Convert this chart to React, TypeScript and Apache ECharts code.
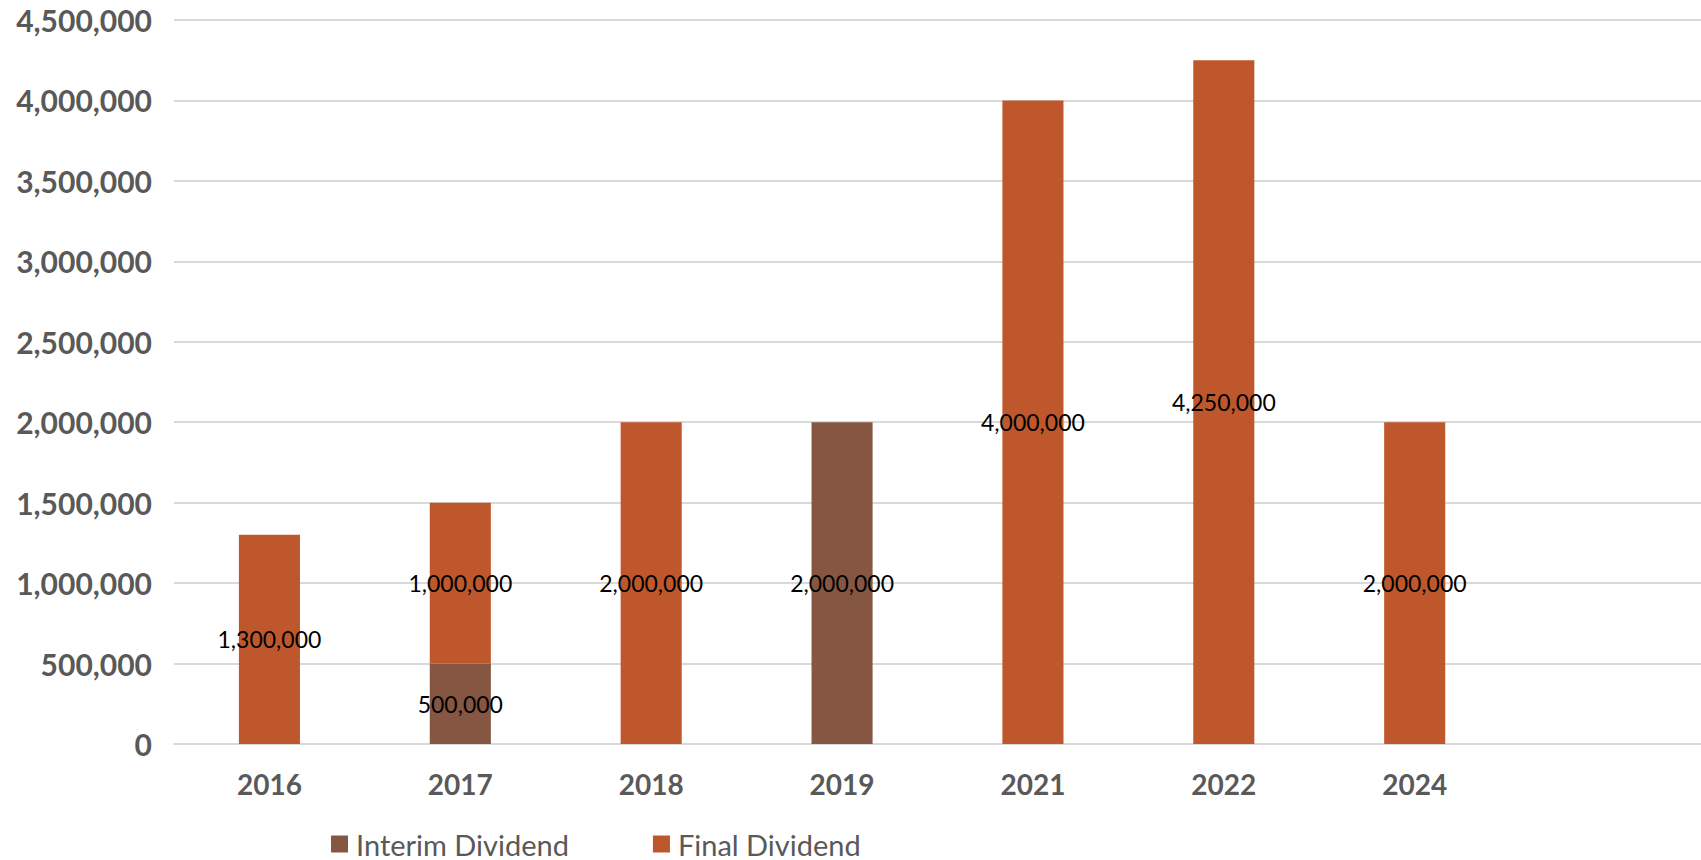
import React, { useEffect, useRef } from "react";
import * as echarts from "echarts";

const categories = ["2016", "2017", "2018", "2019", "2021", "2022", "2024", ""];
const interimDividend: (number | null)[] = [null, 500000, null, 2000000, null, null, null, null];
const finalDividend: (number | null)[] = [1300000, 1000000, 2000000, null, 4000000, 4250000, 2000000, null];
const yTicks = { min: 0, max: 4500000, interval: 500000 };

const fmt = (v: number) => v.toLocaleString("en-US");
const FONT = "Lato, 'Noto Sans', sans-serif";

export default function App() {
  const ref = useRef<HTMLDivElement>(null);
  useEffect(() => {
    if (!ref.current) return;
    const chart = echarts.init(ref.current, undefined, { renderer: "svg" });
    const label = {
      show: true,
      position: "inside" as const,
      color: "#000000",
      fontFamily: FONT,
      fontSize: 23,
      formatter: (p: any) => fmt(p.value),
    };
    chart.setOption({
      animation: false,
      backgroundColor: "#ffffff",
      grid: { left: 174, right: 0, top: 20, bottom: 116, containLabel: false },
      legend: {
        left: 331,
        top: 828,
        padding: 0,
        itemWidth: 17,
        itemHeight: 17,
        itemGap: 84,
        icon: "rect",
        textStyle: { color: "#595959", fontFamily: FONT, fontSize: 29, lineHeight: 32, padding: [0, 0, 0, 3] },
        data: ["Interim Dividend", "Final Dividend"],
      },
      xAxis: {
        type: "category",
        data: categories,
        axisTick: { show: false },
        axisLine: { lineStyle: { color: "#D9D9D9", width: 2 } },
        axisLabel: { color: "#595959", fontFamily: FONT, fontWeight: "bold", fontSize: 28, margin: 26 },
      },
      yAxis: {
        type: "value",
        min: yTicks.min,
        max: yTicks.max,
        interval: yTicks.interval,
        axisLine: { show: false },
        axisTick: { show: false },
        splitLine: { lineStyle: { color: "#D9D9D9", width: 2 } },
        axisLabel: {
          color: "#595959",
          fontFamily: FONT,
          fontWeight: "bold",
          fontSize: 30,
          margin: 22,
          formatter: (v: number) => fmt(v),
        },
      },
      series: [
        {
          name: "Interim Dividend",
          type: "bar",
          stack: "total",
          data: interimDividend,
          barWidth: "32%",
          itemStyle: { color: "#855641" },
          label,
        },
        {
          name: "Final Dividend",
          type: "bar",
          stack: "total",
          data: finalDividend,
          barWidth: "32%",
          itemStyle: { color: "#BE582C" },
          label,
        },
      ],
    });
    return () => chart.dispose();
  }, []);
  return (
    <div
      ref={ref}
      style={{ position: "absolute", left: 0, top: 0, width: 1701, height: 860 }}
    />
  );
}
